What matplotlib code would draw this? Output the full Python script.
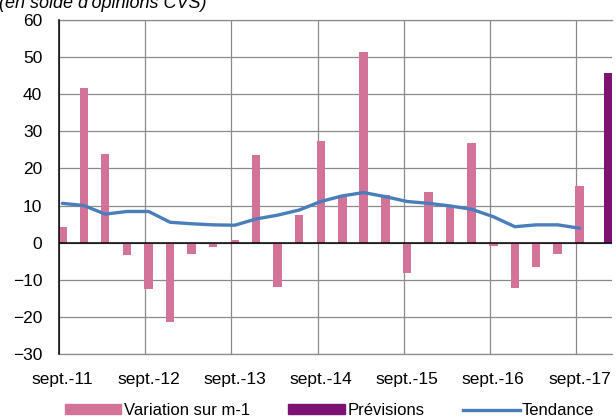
import matplotlib
matplotlib.use("Agg")
import matplotlib.pyplot as plt
from matplotlib.patches import Patch
from matplotlib.lines import Line2D
import pandas as pd

# quarterly change (pink bars), sept.-11 .. sept.-17
variation = [4.3, 41.6, 23.8, -3.3, -12.5, -21.3, -3.0, -1.2, 0.7, 23.5, -11.9, 7.5,
             27.4, 12.8, 51.5, 12.8, -8.3, 13.6, 9.5, 26.8, -0.9, -12.3, -6.5, -3.0, 15.4]
# trend line
tendance = [10.6, 10.0, 7.7, 8.4, 8.4, 5.5, 5.1, 4.8, 4.7, 6.4, 7.4, 8.8,
            11.1, 12.6, 13.5, 12.4, 11.1, 10.6, 9.9, 9.0, 7.0, 4.3, 4.8, 4.8, 3.9]
prevision_date = "2018-01-15"
prevision = [45.8]
tick_labels = ["sept.-11", "sept.-12", "sept.-13", "sept.-14", "sept.-15", "sept.-16", "sept.-17"]

pink = "#D3739A"
purple = "#7E1174"
blue = "#4A7EBB"
grid_col = "#8A8A8A"

plt.rcParams["font.family"] = ["Liberation Sans", "DejaVu Sans"]

dates = pd.date_range("2011-09-01", periods=len(variation), freq="QS-SEP") + pd.Timedelta(days=14)
years = pd.date_range("2011-09-01", periods=len(tick_labels), freq="YS-SEP")

fig = plt.figure(figsize=(6.16, 4.19), dpi=100)
ax = fig.add_axes([59 / 616, 65 / 419, 553 / 616, 334 / 419])

ax.bar(dates, variation, width=36, color=pink, zorder=3)
ax.bar(pd.to_datetime([prevision_date]), prevision, width=36, color=purple, zorder=3)
ax.plot(dates, tendance, color=blue, lw=2.4, zorder=4, solid_capstyle="round")

ax.axhline(0, color="black", lw=1.1, zorder=5)

ax.set_ylim(-30, 60)
ax.set_yticks(range(-30, 61, 10))
ax.set_xlim(pd.Timestamp("2011-09-01"), pd.Timestamp("2018-01-31"))

# labels centred on the first bar of each year, gridlines at 1 Sept
ax.set_xticks(years + pd.Timedelta(days=14))
ax.set_xticklabels(tick_labels)
ax.set_xticks(years, minor=True)
ax.grid(True, axis="y", color=grid_col, lw=0.9, zorder=0)
ax.grid(True, axis="x", which="minor", color=grid_col, lw=0.9, zorder=0)
ax.tick_params(axis="both", which="both", length=0, labelsize=12.5)
ax.tick_params(axis="x", pad=13)
ax.tick_params(axis="y", pad=12)

ax.spines["right"].set_visible(False)
ax.spines["top"].set_color(grid_col)
ax.spines["bottom"].set_color(grid_col)
ax.spines["top"].set_linewidth(0.9)
ax.spines["bottom"].set_linewidth(0.9)
ax.spines["left"].set_color("black")
ax.spines["left"].set_linewidth(1.1)
ax.spines["left"].set_zorder(6)

fig.text(-0.002, 0.981, "(en solde d'opinions CVS)", fontsize=13, style="italic", va="baseline", ha="left")

handles = [Patch(color=pink), Patch(color=purple), Line2D([], [], color=blue, lw=2.4)]
fig.legend(handles, ["Variation sur m-1", "Prévisions", "Tendance"], loc="center",
           bbox_to_anchor=(0.535, 0.02), ncol=3, frameon=False, fontsize=12,
           handlelength=3.4, handleheight=0.55, handletextpad=0.15, columnspacing=2.3)

fig.savefig("out.png", dpi=100)
